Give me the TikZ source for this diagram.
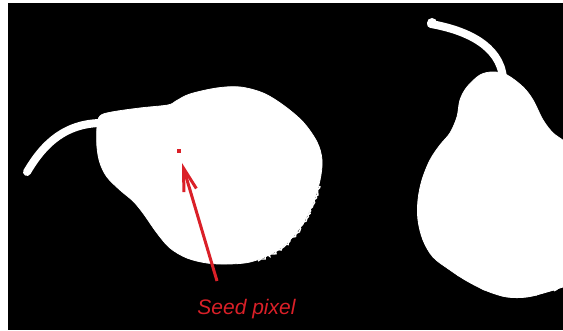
\documentclass[tikz,border=0pt]{standalone}
\usepackage{fontspec}
\setmainfont{Liberation Sans}
\usetikzlibrary{arrows.meta,decorations.pathmorphing}
\definecolor{seedred}{RGB}{218,32,40}
\begin{document}
\begin{tikzpicture}[x=1pt,y=-1pt,
  fruit/.style={fill=white,draw=white,line width=0.8pt,line join=round},
  stem/.style={draw=white,line cap=round,line join=round},
  ragged/.style={draw=#1,line width=1.4pt,
    decorate,decoration={random steps,segment length=2pt,amplitude=1.5pt}},
  seedarrow/.style={draw=seedred,line width=3pt,
    -{Straight Barb[length=23pt,width=13pt,line width=3pt]}},
  seedlabel/.style={text=seedred,font=\fontsize{21}{25}\selectfont\itshape,
    inner sep=0pt,anchor=base}]
\pgfmathsetseed{7}
\useasboundingbox (0,0) rectangle (563,331);
\fill[black] (8,3) rectangle (563,330);
\begin{scope}
  \clip (8,3) rectangle (563,330);
  % left pear, lying on its side
  \draw[stem,line width=8pt] (27,172) .. controls (40,150) and (60,124) .. (100,123);
  \draw[fruit] plot[smooth cycle,tension=0.55] coordinates {
    (100,116) (112,112) (140,108) (168,105) (176,101) (190,94) (217,88)
    (240,87) (263,93) (283,105) (303,122) (317,142) (322,160) (320,180)
    (313,203) (303,223) (290,240) (273,253) (250,262) (227,264) (207,263)
    (187,258) (170,248) (157,233) (143,213) (133,201) (120,190) (107,177)
    (100,163) (97,147) (97,127)};
  % grainy lower right rim of the left pear
  \draw[ragged=white] (320,186) -- (316,196) -- (313,205) -- (308,215)
    -- (303,224) -- (297,233) -- (290,241) -- (282,248) -- (273,254) -- (258,261);
  % right pear, standing upright
  \draw[stem,line width=8pt] (431,24) .. controls (465,30) and (500,45) .. (503,78);
  \fill[white] (432,23) circle (5pt);
  \draw[fruit] plot[smooth cycle,tension=0.55] coordinates {
    (480,75) (493,72) (507,75) (523,87) (533,100) (543,120) (553,133)
    (566,143) (585,165) (585,280) (563,287) (547,292) (527,297) (507,297)
    (487,291) (467,281) (450,270) (433,257) (423,240) (418,220) (418,200)
    (422,180) (430,160) (440,145) (450,133) (457,117) (460,100) (467,87)};
  % grainy lower rim of the right pear
  \draw[ragged=white] (452,270) -- (468,280) -- (488,290) -- (508,296)
    -- (528,296) -- (548,291) -- (565,286);
\end{scope}
% seed pixel and its label
\node[fill=seedred,minimum size=4pt,inner sep=0pt] (seed) at (179,151) {};
\coordinate (tip) at (182,163);
\node[seedlabel] (label) at (246.5,315) {Seed pixel};
\coordinate (tail) at (217,281);
\draw[seedarrow] (tail) -- (tip);
\end{tikzpicture}
\end{document}
